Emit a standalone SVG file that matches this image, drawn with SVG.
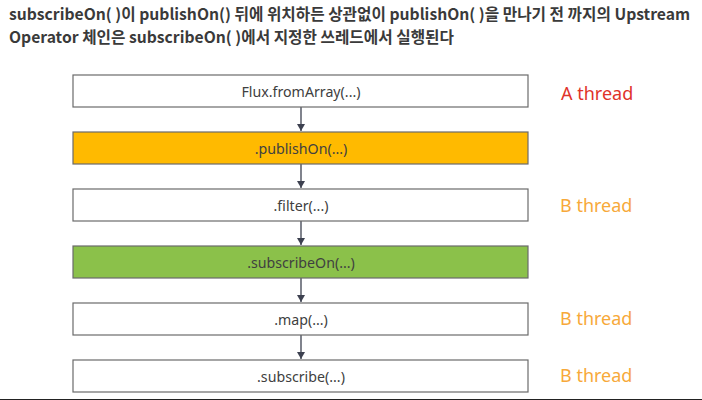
<svg xmlns="http://www.w3.org/2000/svg" width="702" height="400" viewBox="0 0 702 400">
<style>
.title{font-family:"Noto Sans CJK KR","Noto Sans",sans-serif;font-size:15.7px;font-weight:700;fill:#3a3a3a}
.box{stroke:#6b6b6b;stroke-width:1.2}
.lbl{font-family:"Noto Sans","Noto Sans CJK KR",sans-serif;font-size:14.2px;fill:#404040;text-anchor:middle;dominant-baseline:central}
.thr{font-family:"Noto Sans","Noto Sans CJK KR",sans-serif;font-size:18px;dominant-baseline:central}
.conn{stroke:#3d4150;stroke-width:1.3;fill:none}
</style>
<defs>
<marker id="ah" markerWidth="8" markerHeight="8" refX="7" refY="4" orient="auto" markerUnits="userSpaceOnUse">
<path d="M0,0 L7,4 L0,8 Z" fill="#3d4150"/>
</marker>
</defs>
<rect width="702" height="400" fill="#ffffff"/>
<text class="title" x="9" y="20">subscribeOn( )이 publishOn() 뒤에 위치하든 상관없이 publishOn( )을 만나기 전 까지의 Upstream</text>
<text class="title" x="9" y="43">Operator 체인은 subscribeOn( )에서 지정한 쓰레드에서 실행된다</text>
<g id="connectors">
<line class="conn" x1="301" y1="107" x2="301" y2="131" marker-end="url(#ah)"/>
<line class="conn" x1="301" y1="164" x2="301" y2="188" marker-end="url(#ah)"/>
<line class="conn" x1="301" y1="221" x2="301" y2="245" marker-end="url(#ah)"/>
<line class="conn" x1="301" y1="278" x2="301" y2="302" marker-end="url(#ah)"/>
<line class="conn" x1="301" y1="335" x2="301" y2="359" marker-end="url(#ah)"/>
</g>
<g id="n1"><rect class="box" x="73" y="75" width="455" height="32" fill="#ffffff"/><text class="lbl" x="301" y="91">Flux.fromArray(...)</text></g>
<g id="n2"><rect class="box" x="73" y="132" width="455" height="32" fill="#ffba00"/><text class="lbl" x="301" y="148">.publishOn(...)</text></g>
<g id="n3"><rect class="box" x="73" y="189" width="455" height="32" fill="#ffffff"/><text class="lbl" x="301" y="205">.filter(...)</text></g>
<g id="n4"><rect class="box" x="73" y="246" width="455" height="32" fill="#8bc14a"/><text class="lbl" x="301" y="262">.subscribeOn(...)</text></g>
<g id="n5"><rect class="box" x="73" y="303" width="455" height="32" fill="#ffffff"/><text class="lbl" x="301" y="319">.map(...)</text></g>
<g id="n6"><rect class="box" x="73" y="360" width="455" height="32" fill="#ffffff"/><text class="lbl" x="301" y="376">.subscribe(...)</text></g>
<g id="threads">
<text class="thr" x="561" y="93" fill="#e0332a">A thread</text>
<text class="thr" x="560" y="205" fill="#f7a93a">B thread</text>
<text class="thr" x="560" y="318" fill="#f7a93a">B thread</text>
<text class="thr" x="560" y="375" fill="#f7a93a">B thread</text>
</g>
<line x1="0" y1="399.5" x2="702" y2="399.5" stroke="#222" stroke-width="1"/>
</svg>
